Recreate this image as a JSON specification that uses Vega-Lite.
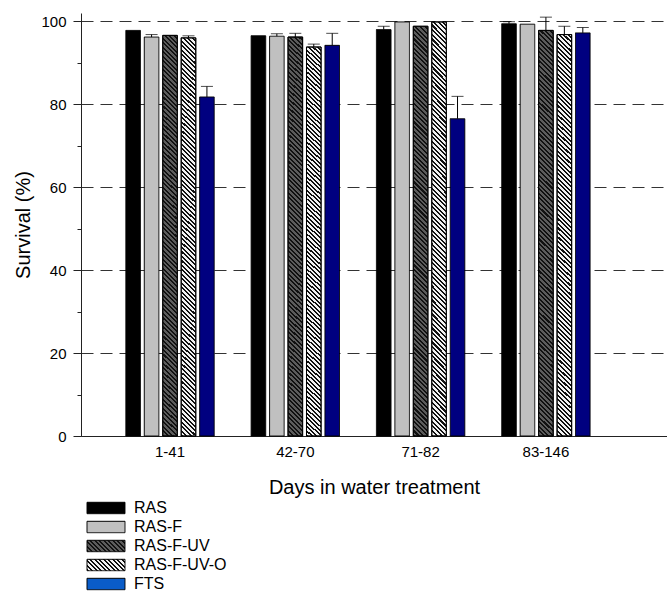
{
"$schema": "https://vega.github.io/schema/vega-lite/v6.json",
"width": 586, "height": 423,
"autosize": {"type": "none"},
"padding": {"left": 81, "top": 13, "right": 0, "bottom": 162},
"config": {"view": {"stroke": null}, "font": "Liberation Sans"},
"data": {"values": [
{"g":"1-41","s":"RAS","v":97.8,"hi":null},
{"g":"1-41","s":"RAS-F","v":96.2,"hi":96.8},
{"g":"1-41","s":"RAS-F-UV","v":96.6,"hi":null},
{"g":"1-41","s":"RAS-F-UV-O","v":96.0,"hi":96.5},
{"g":"1-41","s":"FTS","v":81.75,"hi":84.3},
{"g":"42-70","s":"RAS","v":96.5,"hi":null},
{"g":"42-70","s":"RAS-F","v":96.4,"hi":97.0},
{"g":"42-70","s":"RAS-F-UV","v":96.2,"hi":97.1},
{"g":"42-70","s":"RAS-F-UV-O","v":93.8,"hi":94.5},
{"g":"42-70","s":"FTS","v":94.2,"hi":97.1},
{"g":"71-82","s":"RAS","v":98.0,"hi":98.8},
{"g":"71-82","s":"RAS-F","v":99.85,"hi":null},
{"g":"71-82","s":"RAS-F-UV","v":98.8,"hi":null},
{"g":"71-82","s":"RAS-F-UV-O","v":99.85,"hi":null},
{"g":"71-82","s":"FTS","v":76.5,"hi":81.9},
{"g":"83-146","s":"RAS","v":99.4,"hi":99.9},
{"g":"83-146","s":"RAS-F","v":99.3,"hi":null},
{"g":"83-146","s":"RAS-F-UV","v":97.8,"hi":101.0},
{"g":"83-146","s":"RAS-F-UV-O","v":96.8,"hi":98.8},
{"g":"83-146","s":"FTS","v":97.2,"hi":98.5}
]},
"encoding": {
"x": {"field":"g","type":"nominal","sort":["1-41","42-70","71-82","83-146"],
 "scale":{"paddingInner":0,"paddingOuter":0.3385,"align":0.311},
 "axis":{"title":"Days in water treatment","labelAngle":0,"ticks":false,"labelPadding":8,"labelFontSize":15,"labelColor":"#000","titleFontSize":20,"titleFontWeight":"normal","titleColor":"#000","titlePadding":18,"domainColor":"#222","grid":false}},
"xOffset": {"field":"s","type":"nominal","scale":{"domain":["RAS","RAS-F","RAS-F-UV","RAS-F-UV-O","FTS"],"paddingInner":0.21,"paddingOuter":1.0665}}
},
"layer": [
{"mark":{"type":"bar","stroke":"#000","strokeWidth":1},
 "encoding":{
  "y":{"field":"v","type":"quantitative","scale":{"domain":[0,102],"nice":false},
   "axis":{"title":"Survival (%)","values":[0,20,40,60,80,100],"tickSize":8,"labelPadding":7,"labelFontSize":15,"labelColor":"#000","grid":true,"gridDash":[12,7],"gridColor":"#333","gridWidth":1,"domainColor":"#222","tickColor":"#222","titleFontSize":20,"titleFontWeight":"normal","titleColor":"#000","titlePadding":7}},
  "fill":{"field":"s","type":"nominal",
   "scale":{"domain":["FTS","RAS","RAS-F","RAS-F-UV","RAS-F-UV-O"],
    "range":["#000080","#000000","#c0c0c0","#5c5c5c","#f2f2f2"]},
   "legend":null},
  "strokeDash":{"field":"s","type":"nominal",
   "scale":{"domain":["RAS","RAS-F","RAS-F-UV","RAS-F-UV-O","FTS"],"range":[[1,0],[1,0],[1,0],[1,0],[1,0]]},
   "legend":{"title":null,"orient":"none","legendX":15,"legendY":485,"symbolType":"M-2,-0.6H2V0.6H-2Z","symbolSize":361,"symbolStrokeColor":"#000","symbolStrokeWidth":1,"symbolOpacity":1,"labelFontSize":16,"labelColor":"#000","labelOffset":18,"rowPadding":1,"padding":0,
    "symbolFillColor":{"expr":"datum.value === 'RAS-F-UV' ? {gradient:'linear',x1:0,y1:1,x2:1.193,y2:0.642,stops:[{offset:0,color:'#111'},{offset:0.0409,color:'#111'},{offset:0.0409,color:'#5c5c5c'},{offset:0.0909,color:'#5c5c5c'},{offset:0.0909,color:'#111'},{offset:0.1318,color:'#111'},{offset:0.1318,color:'#5c5c5c'},{offset:0.1818,color:'#5c5c5c'},{offset:0.1818,color:'#111'},{offset:0.2227,color:'#111'},{offset:0.2227,color:'#5c5c5c'},{offset:0.2727,color:'#5c5c5c'},{offset:0.2727,color:'#111'},{offset:0.3136,color:'#111'},{offset:0.3136,color:'#5c5c5c'},{offset:0.3636,color:'#5c5c5c'},{offset:0.3636,color:'#111'},{offset:0.4045,color:'#111'},{offset:0.4045,color:'#5c5c5c'},{offset:0.4545,color:'#5c5c5c'},{offset:0.4545,color:'#111'},{offset:0.4955,color:'#111'},{offset:0.4955,color:'#5c5c5c'},{offset:0.5455,color:'#5c5c5c'},{offset:0.5455,color:'#111'},{offset:0.5864,color:'#111'},{offset:0.5864,color:'#5c5c5c'},{offset:0.6364,color:'#5c5c5c'},{offset:0.6364,color:'#111'},{offset:0.6773,color:'#111'},{offset:0.6773,color:'#5c5c5c'},{offset:0.7273,color:'#5c5c5c'},{offset:0.7273,color:'#111'},{offset:0.7682,color:'#111'},{offset:0.7682,color:'#5c5c5c'},{offset:0.8182,color:'#5c5c5c'},{offset:0.8182,color:'#111'},{offset:0.8591,color:'#111'},{offset:0.8591,color:'#5c5c5c'},{offset:0.9091,color:'#5c5c5c'},{offset:0.9091,color:'#111'},{offset:0.95,color:'#111'},{offset:0.95,color:'#5c5c5c'},{offset:1,color:'#5c5c5c'}]} : datum.value === 'RAS-F-UV-O' ? {gradient:'linear',x1:0,y1:1,x2:1.193,y2:0.642,stops:[{offset:0,color:'#111'},{offset:0.0409,color:'#111'},{offset:0.0409,color:'#f2f2f2'},{offset:0.0909,color:'#f2f2f2'},{offset:0.0909,color:'#111'},{offset:0.1318,color:'#111'},{offset:0.1318,color:'#f2f2f2'},{offset:0.1818,color:'#f2f2f2'},{offset:0.1818,color:'#111'},{offset:0.2227,color:'#111'},{offset:0.2227,color:'#f2f2f2'},{offset:0.2727,color:'#f2f2f2'},{offset:0.2727,color:'#111'},{offset:0.3136,color:'#111'},{offset:0.3136,color:'#f2f2f2'},{offset:0.3636,color:'#f2f2f2'},{offset:0.3636,color:'#111'},{offset:0.4045,color:'#111'},{offset:0.4045,color:'#f2f2f2'},{offset:0.4545,color:'#f2f2f2'},{offset:0.4545,color:'#111'},{offset:0.4955,color:'#111'},{offset:0.4955,color:'#f2f2f2'},{offset:0.5455,color:'#f2f2f2'},{offset:0.5455,color:'#111'},{offset:0.5864,color:'#111'},{offset:0.5864,color:'#f2f2f2'},{offset:0.6364,color:'#f2f2f2'},{offset:0.6364,color:'#111'},{offset:0.6773,color:'#111'},{offset:0.6773,color:'#f2f2f2'},{offset:0.7273,color:'#f2f2f2'},{offset:0.7273,color:'#111'},{offset:0.7682,color:'#111'},{offset:0.7682,color:'#f2f2f2'},{offset:0.8182,color:'#f2f2f2'},{offset:0.8182,color:'#111'},{offset:0.8591,color:'#111'},{offset:0.8591,color:'#f2f2f2'},{offset:0.9091,color:'#f2f2f2'},{offset:0.9091,color:'#111'},{offset:0.95,color:'#111'},{offset:0.95,color:'#f2f2f2'},{offset:1,color:'#f2f2f2'}]} : datum.value === 'RAS' ? '#000000' : datum.value === 'RAS-F' ? '#c0c0c0' : '#0a5cc8'"}}}
 }},
{"transform":[{"filter":{"field":"s","oneOf":["RAS-F-UV","RAS-F-UV-O"]}}],
 "mark":{"type":"bar","stroke":"#000","strokeWidth":1,
  "fill":{"gradient":"linear","x1":0,"y1":1,"x2":0.0368,"y2":-0.0343,"stops":[
{"offset":0,"color":"#111"},{"offset":0.0049,"color":"#111"},{"offset":0.0049,"color":"transparent"},{"offset":0.0109,"color":"transparent"},
{"offset":0.0109,"color":"#111"},{"offset":0.0158,"color":"#111"},{"offset":0.0158,"color":"transparent"},{"offset":0.0217,"color":"transparent"},
{"offset":0.0217,"color":"#111"},{"offset":0.0266,"color":"#111"},{"offset":0.0266,"color":"transparent"},{"offset":0.0326,"color":"transparent"},
{"offset":0.0326,"color":"#111"},{"offset":0.0375,"color":"#111"},{"offset":0.0375,"color":"transparent"},{"offset":0.0435,"color":"transparent"},
{"offset":0.0435,"color":"#111"},{"offset":0.0484,"color":"#111"},{"offset":0.0484,"color":"transparent"},{"offset":0.0543,"color":"transparent"},
{"offset":0.0543,"color":"#111"},{"offset":0.0592,"color":"#111"},{"offset":0.0592,"color":"transparent"},{"offset":0.0652,"color":"transparent"},
{"offset":0.0652,"color":"#111"},{"offset":0.0701,"color":"#111"},{"offset":0.0701,"color":"transparent"},{"offset":0.0761,"color":"transparent"},
{"offset":0.0761,"color":"#111"},{"offset":0.081,"color":"#111"},{"offset":0.081,"color":"transparent"},{"offset":0.087,"color":"transparent"},
{"offset":0.087,"color":"#111"},{"offset":0.0919,"color":"#111"},{"offset":0.0919,"color":"transparent"},{"offset":0.0978,"color":"transparent"},
{"offset":0.0978,"color":"#111"},{"offset":0.1027,"color":"#111"},{"offset":0.1027,"color":"transparent"},{"offset":0.1087,"color":"transparent"},
{"offset":0.1087,"color":"#111"},{"offset":0.1136,"color":"#111"},{"offset":0.1136,"color":"transparent"},{"offset":0.1196,"color":"transparent"},
{"offset":0.1196,"color":"#111"},{"offset":0.1245,"color":"#111"},{"offset":0.1245,"color":"transparent"},{"offset":0.1304,"color":"transparent"},
{"offset":0.1304,"color":"#111"},{"offset":0.1353,"color":"#111"},{"offset":0.1353,"color":"transparent"},{"offset":0.1413,"color":"transparent"},
{"offset":0.1413,"color":"#111"},{"offset":0.1462,"color":"#111"},{"offset":0.1462,"color":"transparent"},{"offset":0.1522,"color":"transparent"},
{"offset":0.1522,"color":"#111"},{"offset":0.1571,"color":"#111"},{"offset":0.1571,"color":"transparent"},{"offset":0.163,"color":"transparent"},
{"offset":0.163,"color":"#111"},{"offset":0.1679,"color":"#111"},{"offset":0.1679,"color":"transparent"},{"offset":0.1739,"color":"transparent"},
{"offset":0.1739,"color":"#111"},{"offset":0.1788,"color":"#111"},{"offset":0.1788,"color":"transparent"},{"offset":0.1848,"color":"transparent"},
{"offset":0.1848,"color":"#111"},{"offset":0.1897,"color":"#111"},{"offset":0.1897,"color":"transparent"},{"offset":0.1957,"color":"transparent"},
{"offset":0.1957,"color":"#111"},{"offset":0.2006,"color":"#111"},{"offset":0.2006,"color":"transparent"},{"offset":0.2065,"color":"transparent"},
{"offset":0.2065,"color":"#111"},{"offset":0.2114,"color":"#111"},{"offset":0.2114,"color":"transparent"},{"offset":0.2174,"color":"transparent"},
{"offset":0.2174,"color":"#111"},{"offset":0.2223,"color":"#111"},{"offset":0.2223,"color":"transparent"},{"offset":0.2283,"color":"transparent"},
{"offset":0.2283,"color":"#111"},{"offset":0.2332,"color":"#111"},{"offset":0.2332,"color":"transparent"},{"offset":0.2391,"color":"transparent"},
{"offset":0.2391,"color":"#111"},{"offset":0.244,"color":"#111"},{"offset":0.244,"color":"transparent"},{"offset":0.25,"color":"transparent"},
{"offset":0.25,"color":"#111"},{"offset":0.2549,"color":"#111"},{"offset":0.2549,"color":"transparent"},{"offset":0.2609,"color":"transparent"},
{"offset":0.2609,"color":"#111"},{"offset":0.2658,"color":"#111"},{"offset":0.2658,"color":"transparent"},{"offset":0.2717,"color":"transparent"},
{"offset":0.2717,"color":"#111"},{"offset":0.2766,"color":"#111"},{"offset":0.2766,"color":"transparent"},{"offset":0.2826,"color":"transparent"},
{"offset":0.2826,"color":"#111"},{"offset":0.2875,"color":"#111"},{"offset":0.2875,"color":"transparent"},{"offset":0.2935,"color":"transparent"},
{"offset":0.2935,"color":"#111"},{"offset":0.2984,"color":"#111"},{"offset":0.2984,"color":"transparent"},{"offset":0.3043,"color":"transparent"},
{"offset":0.3043,"color":"#111"},{"offset":0.3092,"color":"#111"},{"offset":0.3092,"color":"transparent"},{"offset":0.3152,"color":"transparent"},
{"offset":0.3152,"color":"#111"},{"offset":0.3201,"color":"#111"},{"offset":0.3201,"color":"transparent"},{"offset":0.3261,"color":"transparent"},
{"offset":0.3261,"color":"#111"},{"offset":0.331,"color":"#111"},{"offset":0.331,"color":"transparent"},{"offset":0.337,"color":"transparent"},
{"offset":0.337,"color":"#111"},{"offset":0.3419,"color":"#111"},{"offset":0.3419,"color":"transparent"},{"offset":0.3478,"color":"transparent"},
{"offset":0.3478,"color":"#111"},{"offset":0.3527,"color":"#111"},{"offset":0.3527,"color":"transparent"},{"offset":0.3587,"color":"transparent"},
{"offset":0.3587,"color":"#111"},{"offset":0.3636,"color":"#111"},{"offset":0.3636,"color":"transparent"},{"offset":0.3696,"color":"transparent"},
{"offset":0.3696,"color":"#111"},{"offset":0.3745,"color":"#111"},{"offset":0.3745,"color":"transparent"},{"offset":0.3804,"color":"transparent"},
{"offset":0.3804,"color":"#111"},{"offset":0.3853,"color":"#111"},{"offset":0.3853,"color":"transparent"},{"offset":0.3913,"color":"transparent"},
{"offset":0.3913,"color":"#111"},{"offset":0.3962,"color":"#111"},{"offset":0.3962,"color":"transparent"},{"offset":0.4022,"color":"transparent"},
{"offset":0.4022,"color":"#111"},{"offset":0.4071,"color":"#111"},{"offset":0.4071,"color":"transparent"},{"offset":0.413,"color":"transparent"},
{"offset":0.413,"color":"#111"},{"offset":0.4179,"color":"#111"},{"offset":0.4179,"color":"transparent"},{"offset":0.4239,"color":"transparent"},
{"offset":0.4239,"color":"#111"},{"offset":0.4288,"color":"#111"},{"offset":0.4288,"color":"transparent"},{"offset":0.4348,"color":"transparent"},
{"offset":0.4348,"color":"#111"},{"offset":0.4397,"color":"#111"},{"offset":0.4397,"color":"transparent"},{"offset":0.4457,"color":"transparent"},
{"offset":0.4457,"color":"#111"},{"offset":0.4506,"color":"#111"},{"offset":0.4506,"color":"transparent"},{"offset":0.4565,"color":"transparent"},
{"offset":0.4565,"color":"#111"},{"offset":0.4614,"color":"#111"},{"offset":0.4614,"color":"transparent"},{"offset":0.4674,"color":"transparent"},
{"offset":0.4674,"color":"#111"},{"offset":0.4723,"color":"#111"},{"offset":0.4723,"color":"transparent"},{"offset":0.4783,"color":"transparent"},
{"offset":0.4783,"color":"#111"},{"offset":0.4832,"color":"#111"},{"offset":0.4832,"color":"transparent"},{"offset":0.4891,"color":"transparent"},
{"offset":0.4891,"color":"#111"},{"offset":0.494,"color":"#111"},{"offset":0.494,"color":"transparent"},{"offset":0.5,"color":"transparent"},
{"offset":0.5,"color":"#111"},{"offset":0.5049,"color":"#111"},{"offset":0.5049,"color":"transparent"},{"offset":0.5109,"color":"transparent"},
{"offset":0.5109,"color":"#111"},{"offset":0.5158,"color":"#111"},{"offset":0.5158,"color":"transparent"},{"offset":0.5217,"color":"transparent"},
{"offset":0.5217,"color":"#111"},{"offset":0.5266,"color":"#111"},{"offset":0.5266,"color":"transparent"},{"offset":0.5326,"color":"transparent"},
{"offset":0.5326,"color":"#111"},{"offset":0.5375,"color":"#111"},{"offset":0.5375,"color":"transparent"},{"offset":0.5435,"color":"transparent"},
{"offset":0.5435,"color":"#111"},{"offset":0.5484,"color":"#111"},{"offset":0.5484,"color":"transparent"},{"offset":0.5543,"color":"transparent"},
{"offset":0.5543,"color":"#111"},{"offset":0.5592,"color":"#111"},{"offset":0.5592,"color":"transparent"},{"offset":0.5652,"color":"transparent"},
{"offset":0.5652,"color":"#111"},{"offset":0.5701,"color":"#111"},{"offset":0.5701,"color":"transparent"},{"offset":0.5761,"color":"transparent"},
{"offset":0.5761,"color":"#111"},{"offset":0.581,"color":"#111"},{"offset":0.581,"color":"transparent"},{"offset":0.587,"color":"transparent"},
{"offset":0.587,"color":"#111"},{"offset":0.5919,"color":"#111"},{"offset":0.5919,"color":"transparent"},{"offset":0.5978,"color":"transparent"},
{"offset":0.5978,"color":"#111"},{"offset":0.6027,"color":"#111"},{"offset":0.6027,"color":"transparent"},{"offset":0.6087,"color":"transparent"},
{"offset":0.6087,"color":"#111"},{"offset":0.6136,"color":"#111"},{"offset":0.6136,"color":"transparent"},{"offset":0.6196,"color":"transparent"},
{"offset":0.6196,"color":"#111"},{"offset":0.6245,"color":"#111"},{"offset":0.6245,"color":"transparent"},{"offset":0.6304,"color":"transparent"},
{"offset":0.6304,"color":"#111"},{"offset":0.6353,"color":"#111"},{"offset":0.6353,"color":"transparent"},{"offset":0.6413,"color":"transparent"},
{"offset":0.6413,"color":"#111"},{"offset":0.6462,"color":"#111"},{"offset":0.6462,"color":"transparent"},{"offset":0.6522,"color":"transparent"},
{"offset":0.6522,"color":"#111"},{"offset":0.6571,"color":"#111"},{"offset":0.6571,"color":"transparent"},{"offset":0.663,"color":"transparent"},
{"offset":0.663,"color":"#111"},{"offset":0.6679,"color":"#111"},{"offset":0.6679,"color":"transparent"},{"offset":0.6739,"color":"transparent"},
{"offset":0.6739,"color":"#111"},{"offset":0.6788,"color":"#111"},{"offset":0.6788,"color":"transparent"},{"offset":0.6848,"color":"transparent"},
{"offset":0.6848,"color":"#111"},{"offset":0.6897,"color":"#111"},{"offset":0.6897,"color":"transparent"},{"offset":0.6957,"color":"transparent"},
{"offset":0.6957,"color":"#111"},{"offset":0.7006,"color":"#111"},{"offset":0.7006,"color":"transparent"},{"offset":0.7065,"color":"transparent"},
{"offset":0.7065,"color":"#111"},{"offset":0.7114,"color":"#111"},{"offset":0.7114,"color":"transparent"},{"offset":0.7174,"color":"transparent"},
{"offset":0.7174,"color":"#111"},{"offset":0.7223,"color":"#111"},{"offset":0.7223,"color":"transparent"},{"offset":0.7283,"color":"transparent"},
{"offset":0.7283,"color":"#111"},{"offset":0.7332,"color":"#111"},{"offset":0.7332,"color":"transparent"},{"offset":0.7391,"color":"transparent"},
{"offset":0.7391,"color":"#111"},{"offset":0.744,"color":"#111"},{"offset":0.744,"color":"transparent"},{"offset":0.75,"color":"transparent"},
{"offset":0.75,"color":"#111"},{"offset":0.7549,"color":"#111"},{"offset":0.7549,"color":"transparent"},{"offset":0.7609,"color":"transparent"},
{"offset":0.7609,"color":"#111"},{"offset":0.7658,"color":"#111"},{"offset":0.7658,"color":"transparent"},{"offset":0.7717,"color":"transparent"},
{"offset":0.7717,"color":"#111"},{"offset":0.7766,"color":"#111"},{"offset":0.7766,"color":"transparent"},{"offset":0.7826,"color":"transparent"},
{"offset":0.7826,"color":"#111"},{"offset":0.7875,"color":"#111"},{"offset":0.7875,"color":"transparent"},{"offset":0.7935,"color":"transparent"},
{"offset":0.7935,"color":"#111"},{"offset":0.7984,"color":"#111"},{"offset":0.7984,"color":"transparent"},{"offset":0.8043,"color":"transparent"},
{"offset":0.8043,"color":"#111"},{"offset":0.8092,"color":"#111"},{"offset":0.8092,"color":"transparent"},{"offset":0.8152,"color":"transparent"},
{"offset":0.8152,"color":"#111"},{"offset":0.8201,"color":"#111"},{"offset":0.8201,"color":"transparent"},{"offset":0.8261,"color":"transparent"},
{"offset":0.8261,"color":"#111"},{"offset":0.831,"color":"#111"},{"offset":0.831,"color":"transparent"},{"offset":0.837,"color":"transparent"},
{"offset":0.837,"color":"#111"},{"offset":0.8419,"color":"#111"},{"offset":0.8419,"color":"transparent"},{"offset":0.8478,"color":"transparent"},
{"offset":0.8478,"color":"#111"},{"offset":0.8527,"color":"#111"},{"offset":0.8527,"color":"transparent"},{"offset":0.8587,"color":"transparent"},
{"offset":0.8587,"color":"#111"},{"offset":0.8636,"color":"#111"},{"offset":0.8636,"color":"transparent"},{"offset":0.8696,"color":"transparent"},
{"offset":0.8696,"color":"#111"},{"offset":0.8745,"color":"#111"},{"offset":0.8745,"color":"transparent"},{"offset":0.8804,"color":"transparent"},
{"offset":0.8804,"color":"#111"},{"offset":0.8853,"color":"#111"},{"offset":0.8853,"color":"transparent"},{"offset":0.8913,"color":"transparent"},
{"offset":0.8913,"color":"#111"},{"offset":0.8962,"color":"#111"},{"offset":0.8962,"color":"transparent"},{"offset":0.9022,"color":"transparent"},
{"offset":0.9022,"color":"#111"},{"offset":0.9071,"color":"#111"},{"offset":0.9071,"color":"transparent"},{"offset":0.913,"color":"transparent"},
{"offset":0.913,"color":"#111"},{"offset":0.9179,"color":"#111"},{"offset":0.9179,"color":"transparent"},{"offset":0.9239,"color":"transparent"},
{"offset":0.9239,"color":"#111"},{"offset":0.9288,"color":"#111"},{"offset":0.9288,"color":"transparent"},{"offset":0.9348,"color":"transparent"},
{"offset":0.9348,"color":"#111"},{"offset":0.9397,"color":"#111"},{"offset":0.9397,"color":"transparent"},{"offset":0.9457,"color":"transparent"},
{"offset":0.9457,"color":"#111"},{"offset":0.9506,"color":"#111"},{"offset":0.9506,"color":"transparent"},{"offset":0.9565,"color":"transparent"},
{"offset":0.9565,"color":"#111"},{"offset":0.9614,"color":"#111"},{"offset":0.9614,"color":"transparent"},{"offset":0.9674,"color":"transparent"},
{"offset":0.9674,"color":"#111"},{"offset":0.9723,"color":"#111"},{"offset":0.9723,"color":"transparent"},{"offset":0.9783,"color":"transparent"},
{"offset":0.9783,"color":"#111"},{"offset":0.9832,"color":"#111"},{"offset":0.9832,"color":"transparent"},{"offset":0.9891,"color":"transparent"},
{"offset":0.9891,"color":"#111"},{"offset":0.994,"color":"#111"},{"offset":0.994,"color":"transparent"},{"offset":1,"color":"transparent"}]}},
 "encoding":{"y":{"field":"v","type":"quantitative","axis":null}}},
{"transform":[{"filter":"datum.hi != null"}],
 "mark":{"type":"rule","color":"#000","strokeWidth":1},
 "encoding":{"y":{"field":"v","type":"quantitative","axis":{"orient":"left","values":[10,30,50,70,90],"labels":false,"tickSize":4,"domain":false,"grid":false,"title":null,"tickColor":"#222"}},"y2":{"field":"hi"}}},
{"transform":[{"filter":"datum.hi != null"}],
 "mark":{"type":"tick","color":"#000","thickness":1,"size":12},
 "encoding":{"y":{"field":"hi","type":"quantitative","axis":null}}}
],
"resolve": {"axis": {"y": "independent"}}
}
